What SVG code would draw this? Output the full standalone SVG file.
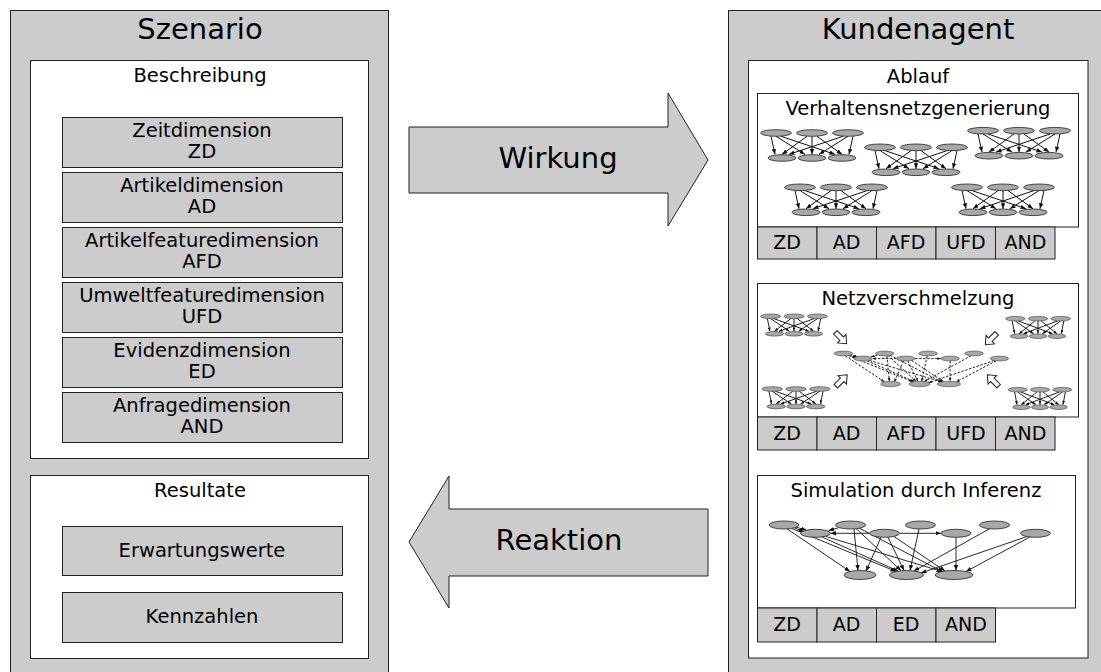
<svg xmlns="http://www.w3.org/2000/svg" xmlns:xlink="http://www.w3.org/1999/xlink" width="1101" height="672" viewBox="0 0 1101 672">
<style>
.box{fill:#cccccc;stroke:#222;stroke-width:1}
.wht{fill:#fff;stroke:#222;stroke-width:1}
.t{font-family:"DejaVu Sans",Verdana,sans-serif;fill:#000;text-anchor:middle}
.h{font-size:29px}
.m{font-size:19.5px}
.s{font-size:19px}
.e{stroke:#111;fill:none;marker-end:url(#ah)}
.n{fill:#a8a8a8;stroke:#222;stroke-width:0.8}
.ha{fill:#fff;stroke:#222;stroke-width:1}
.big{fill:#cccccc;stroke:#222;stroke-width:1}
</style>
<defs>
<marker id="ah" markerUnits="userSpaceOnUse" viewBox="0 0 5 4" refX="5" refY="2" markerWidth="5.5" markerHeight="4.4" orient="auto">
<path d="M0,0 L5,2 L0,4 Z" fill="#111"/>
</marker>
<g id="net">
<path class="e" d="M-41,3.3 L-37,21.4"/>
<path class="e" d="M-36,3.3 L-7,21.4"/>
<path class="e" d="M-31,3.3 L23,21.4"/>
<path class="e" d="M-5,3.3 L-30,21.4"/>
<path class="e" d="M0,3.3 L0,21.4"/>
<path class="e" d="M5,3.3 L30,21.4"/>
<path class="e" d="M31,3.3 L-23,21.4"/>
<path class="e" d="M36,3.3 L7,21.4"/>
<path class="e" d="M41,3.3 L37,21.4"/>
<ellipse class="n" cx="-36" cy="0" rx="15.5" ry="3.3"/>
<ellipse class="n" cx="0" cy="0" rx="15.5" ry="3.3"/>
<ellipse class="n" cx="36" cy="0" rx="15.5" ry="3.3"/>
<ellipse class="n" cx="-30" cy="25" rx="14" ry="3.3"/>
<ellipse class="n" cx="0" cy="25" rx="14" ry="3.3"/>
<ellipse class="n" cx="30" cy="25" rx="14" ry="3.3"/>
</g>
<g id="simEdges">
<path class="e" d="M10,1.5 L22.5,5.2"/>
<path class="e" d="M11,3 L20,7.2"/>
<path class="e" d="M54,3 L44.5,5.5"/>
<path class="e" d="M85.5,8.3 L46.5,8.3"/>
<path class="e" d="M115.5,8.3 L157,8.3"/>
<path class="e" d="M3,3.8 L66,46.5"/>
<path class="e" d="M8,3.5 L112,46.5"/>
<path class="e" d="M38,12 L114,46"/>
<path class="e" d="M42,11.5 L158,46.5"/>
<path class="e" d="M70,4 L74,45.5"/>
<path class="e" d="M72,3.5 L117,45.6"/>
<path class="e" d="M75,3 L159,47"/>
<path class="e" d="M97,12.3 L82,46.2"/>
<path class="e" d="M104,12.3 L120,45.5"/>
<path class="e" d="M110,11.5 L161,46"/>
<path class="e" d="M135,4 L126,45.5"/>
<path class="e" d="M172,12.3 L172,45.5"/>
<path class="e" d="M206,3.5 L130,46"/>
<path class="e" d="M243,11.5 L137,48"/>
<path class="e" d="M246,12 L182,46.5"/>
</g>
<g id="simNodes">
<ellipse class="n" cx="0" cy="0" rx="15" ry="4"/>
<ellipse class="n" cx="31.5" cy="8.3" rx="15" ry="4"/>
<ellipse class="n" cx="66.5" cy="0" rx="15" ry="4"/>
<ellipse class="n" cx="100.5" cy="8.3" rx="15" ry="4"/>
<ellipse class="n" cx="136.5" cy="0" rx="15" ry="4"/>
<ellipse class="n" cx="172" cy="8.3" rx="15" ry="4"/>
<ellipse class="n" cx="210.5" cy="0" rx="15" ry="4"/>
<ellipse class="n" cx="251.5" cy="8.3" rx="15" ry="4"/>
<ellipse class="n" cx="76" cy="50" rx="16" ry="4.5"/>
<ellipse class="n" cx="122.5" cy="50" rx="17" ry="4.5"/>
<ellipse class="n" cx="170" cy="50" rx="19" ry="4.5"/>
</g>
<path id="harrow" class="ha" d="M-8,-2.5 H1 V-6 L8,0 L1,6 V2.5 H-8 Z"/>
</defs>

<rect width="1101" height="672" fill="#fff"/>

<g id="szenario">
<rect class="box" x="10.5" y="10.5" width="378" height="700"/>
<text class="t h" x="200" y="39">Szenario</text>
</g>
<g id="beschreibung">
<rect class="wht" x="30.5" y="60.5" width="338" height="398"/>
<text class="t m" x="200" y="82">Beschreibung</text>
</g>
<g id="zd">
<rect class="box" x="62.5" y="117.5" width="280" height="50"/>
<text class="t m" x="202" y="137">Zeitdimension</text>
<text class="t m" x="202" y="158">ZD</text>
</g>
<g id="ad">
<rect class="box" x="62.5" y="172.5" width="280" height="50"/>
<text class="t m" x="202" y="192">Artikeldimension</text>
<text class="t m" x="202" y="213">AD</text>
</g>
<g id="afd">
<rect class="box" x="62.5" y="227.5" width="280" height="50"/>
<text class="t m" x="202" y="247">Artikelfeaturedimension</text>
<text class="t m" x="202" y="268">AFD</text>
</g>
<g id="ufd">
<rect class="box" x="62.5" y="282.5" width="280" height="50"/>
<text class="t m" x="202" y="302">Umweltfeaturedimension</text>
<text class="t m" x="202" y="323">UFD</text>
</g>
<g id="ed">
<rect class="box" x="62.5" y="337.5" width="280" height="50"/>
<text class="t m" x="202" y="357">Evidenzdimension</text>
<text class="t m" x="202" y="378">ED</text>
</g>
<g id="and">
<rect class="box" x="62.5" y="392.5" width="280" height="50"/>
<text class="t m" x="202" y="412">Anfragedimension</text>
<text class="t m" x="202" y="433">AND</text>
</g>
<g id="resultate">
<rect class="wht" x="30.5" y="475.5" width="338" height="183"/>
<text class="t m" x="200" y="497">Resultate</text>
</g>
<g id="erwartungswerte">
<rect class="box" x="62.5" y="526.5" width="280" height="49"/>
<text class="t m" x="202" y="556.5">Erwartungswerte</text>
</g>
<g id="kennzahlen">
<rect class="box" x="62.5" y="592.5" width="280" height="50"/>
<text class="t m" x="202" y="623">Kennzahlen</text>
</g>

<g id="kundenagent">
<rect class="box" x="728.5" y="10.5" width="400" height="700"/>
<text class="t h" x="918" y="39">Kundenagent</text>
</g>
<g id="ablauf">
<rect class="wht" x="748.5" y="60.5" width="339.5" height="597.5"/>
<text class="t m" x="918" y="83">Ablauf</text>
</g>

<g id="verhaltensnetzgenerierung">
<rect class="wht" x="757.5" y="93.5" width="321" height="133.5"/>
<text class="t m" x="918" y="115">Verhaltensnetzgenerierung</text>
<g stroke-width="1">
<use xlink:href="#net" href="#net" transform="translate(812,133)"/>
<use xlink:href="#net" href="#net" transform="translate(916,147.3)"/>
<use xlink:href="#net" href="#net" transform="translate(1019,130.7)"/>
<use xlink:href="#net" href="#net" transform="translate(836,187.3)"/>
<use xlink:href="#net" href="#net" transform="translate(1003,187.3)"/>
</g>
<rect class="box" x="757.5" y="227" width="59.5" height="32"/>
<rect class="box" x="817" y="227" width="59.5" height="32"/>
<rect class="box" x="876.5" y="227" width="59.5" height="32"/>
<rect class="box" x="936" y="227" width="59.5" height="32"/>
<rect class="box" x="995.5" y="227" width="59.5" height="32"/>
<text class="t s" x="787" y="249">ZD</text>
<text class="t s" x="846.5" y="249">AD</text>
<text class="t s" x="906" y="249">AFD</text>
<text class="t s" x="966" y="249">UFD</text>
<text class="t s" x="1025.5" y="249">AND</text>
</g>

<g id="netzverschmelzung">
<rect class="wht" x="757.5" y="283.5" width="321" height="133.5"/>
<text class="t m" x="918" y="305">Netzverschmelzung</text>
<g stroke-width="1.4">
<use xlink:href="#net" href="#net" transform="translate(794,316.3) scale(0.65,0.7)"/>
<use xlink:href="#net" href="#net" transform="translate(1038,318.7) scale(0.63,0.7)"/>
<use xlink:href="#net" href="#net" transform="translate(796,389) scale(0.66,0.7)"/>
<use xlink:href="#net" href="#net" transform="translate(1040,389.7) scale(0.62,0.7)"/>
</g>
<use xlink:href="#harrow" href="#harrow" transform="translate(841,338) rotate(45)"/>
<use xlink:href="#harrow" href="#harrow" transform="translate(991,339) rotate(135)"/>
<use xlink:href="#harrow" href="#harrow" transform="translate(841.5,380.5) rotate(-45)"/>
<use xlink:href="#harrow" href="#harrow" transform="translate(993,380.5) rotate(-135)"/>
<use xlink:href="#simEdges" href="#simEdges" transform="translate(843.5,353.5) scale(0.62,0.61)" stroke-width="1.5" stroke-dasharray="4 2.5"/>
<use xlink:href="#simNodes" href="#simNodes" transform="translate(843.5,353.5) scale(0.62,0.61)"/>
<rect class="box" x="757.5" y="417" width="59.5" height="33"/>
<rect class="box" x="817" y="417" width="59.5" height="33"/>
<rect class="box" x="876.5" y="417" width="59.5" height="33"/>
<rect class="box" x="936" y="417" width="59.5" height="33"/>
<rect class="box" x="995.5" y="417" width="59.5" height="33"/>
<text class="t s" x="787" y="439.5">ZD</text>
<text class="t s" x="846.5" y="439.5">AD</text>
<text class="t s" x="906" y="439.5">AFD</text>
<text class="t s" x="966" y="439.5">UFD</text>
<text class="t s" x="1025.5" y="439.5">AND</text>
</g>

<g id="simulation">
<rect class="wht" x="757.5" y="475.5" width="318" height="132.5"/>
<text class="t m" x="916" y="497">Simulation durch Inferenz</text>
<use xlink:href="#simEdges" href="#simEdges" transform="translate(784,525)" stroke-width="0.9"/>
<use xlink:href="#simNodes" href="#simNodes" transform="translate(784,525)"/>
<rect class="box" x="757.5" y="608" width="59.5" height="34"/>
<rect class="box" x="817" y="608" width="59.5" height="34"/>
<rect class="box" x="876.5" y="608" width="59.5" height="34"/>
<rect class="box" x="936" y="608" width="59.5" height="34"/>
<text class="t s" x="787" y="631">ZD</text>
<text class="t s" x="846.5" y="631">AD</text>
<text class="t s" x="906" y="631">ED</text>
<text class="t s" x="966" y="631">AND</text>
</g>

<g id="connectors">
<g id="wirkung">
<polygon class="big" points="409,127 668,127 668,93 708,160 668,226 668,193 409,193"/>
<text class="t h" x="558" y="168">Wirkung</text>
</g>
<g id="reaktion">
<polygon class="big" points="708,509 449,509 449,476 409,542 449,608 449,576 708,576"/>
<text class="t h" x="559" y="550">Reaktion</text>
</g>
</g>
</svg>
